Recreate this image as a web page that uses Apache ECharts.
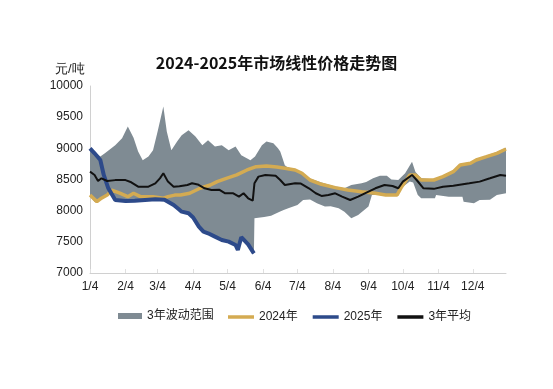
<!DOCTYPE html>
<html><head><meta charset="utf-8">
<script src="https://cdn.jsdelivr.net/npm/echarts@6/dist/echarts.min.js"></script>
<style>html,body{margin:0;padding:0;background:#fff}#c{width:553px;height:389px}</style>
</head><body><div id="c"></div>
<script>
// x = days since Jan 4
var tickDays = [0,31,59,90,120,151,181,212,243,273,304,334];
var tickLabels = ['1/4','2/4','3/4','4/4','5/4','6/4','7/4','8/4','9/4','10/4','11/4','12/4'];
var yTicks = [7000,7500,8000,8500,9000,9500,10000];

var bandUpper = [[0,9000],[9,8870],[13,8920],[22,9050],[28,9160],[33,9350],[38,9170],[42,8950],[46,8810],[51,8870],[55,8970],[59,9270],[64,9670],[67,9270],[71,8970],[76,9110],[80,9210],[86,9290],[92,9190],[98,9050],[103,9130],[109,9030],[115,9050],[121,8970],[127,9030],[132,8890],[140,8810],[144,8870],[150,9050],[154,9110],[160,9080],[164,9000],[166,8950],[168,8840],[170,8730],[172,8700],[185,8620],[190,8530],[202,8450],[213,8390],[222,8360],[228,8410],[237,8440],[241,8460],[247,8520],[253,8560],[259,8560],[263,8500],[269,8490],[275,8600],[281,8786],[284,8620],[289,8519],[299,8505],[308,8565],[317,8645],[323,8750],[332,8780],[338,8830],[346,8885],[355,8940],[363,9010]];
var bandLower = [[0,8230],[4,8140],[10,8200],[15,8250],[18,8280],[22,8160],[31,8150],[48,8160],[57,8175],[65,8170],[73,8090],[80,7984],[86,7958],[90,7878],[95,7744],[99,7663],[103,7637],[109,7583],[115,7530],[121,7503],[127,7450],[129,7360],[132,7560],[138,7450],[143,7300],[143.5,7880],[152,7900],[158,7920],[165,7980],[169,8011],[173,8040],[181,8090],[186,8170],[192,8180],[198,8118],[205,8065],[210,8070],[217,8038],[222,7984],[228,7878],[234,7931],[243,8065],[246,8250],[255,8260],[268,8260],[273,8385],[279,8466],[282,8450],[286,8252],[289,8199],[301,8199],[302,8252],[313,8225],[325,8225],[326,8145],[335,8118],[340,8171],[349,8175],[355,8252],[363,8279]];
var y2024 = [[0,8250],[6,8145],[10,8200],[15,8250],[19,8330],[26,8280],[33,8225],[38,8280],[44,8225],[55,8225],[64,8200],[68,8225],[74,8250],[79,8252],[87,8280],[96,8359],[105,8412],[111,8466],[119,8519],[128,8573],[137,8653],[145,8706],[154,8717],[163,8700],[170,8680],[179,8653],[185,8600],[192,8492],[202,8423],[214,8370],[225,8332],[237,8305],[249,8279],[258,8252],[268,8252],[272,8385],[279,8573],[284,8573],[289,8492],[300,8492],[308,8546],[317,8626],[323,8733],[332,8760],[337,8813],[346,8866],[355,8920],[363,8990]];
var y2025 = [[0,9000],[4,8920],[9,8813],[12,8573],[16,8359],[22,8171],[31,8155],[39,8160],[48,8171],[57,8182],[65,8175],[73,8091],[77,8030],[80,7984],[86,7958],[90,7890],[95,7744],[99,7663],[103,7637],[109,7583],[115,7530],[121,7503],[127,7450],[129,7370],[132,7575],[138,7460],[143,7316]];
var avg3 = [[0,8626],[4,8573],[7,8476],[10,8519],[15,8476],[22,8490],[31,8490],[36,8455],[42,8385],[51,8385],[57,8439],[61,8519],[64,8600],[68,8466],[73,8385],[78,8390],[85,8412],[89,8439],[94,8420],[100,8359],[106,8332],[113,8335],[118,8279],[125,8279],[130,8225],[134,8279],[138,8199],[142,8160],[143.5,8440],[147,8546],[153,8573],[162,8560],[166,8492],[170,8412],[179,8439],[184,8435],[191,8359],[197,8279],[202,8236],[208,8250],[214,8279],[220,8225],[227,8171],[234,8225],[243,8305],[249,8359],[257,8412],[264,8396],[269,8359],[273,8466],[281,8573],[285,8492],[291,8359],[300,8350],[308,8385],[317,8400],[331,8439],[340,8466],[349,8519],[358,8573],[363,8560]];

var names = ['3年波动范围','2024年','2025年','3年平均'];
var FONT = 'Liberation Sans, "Noto Sans CJK SC", sans-serif';
var bandColor = '#7f8b93';
var c2024 = '#d4ab52', c2025 = '#2d4a8a', cAvg = '#111111';

var chart = echarts.init(document.getElementById('c'), null, {renderer:'canvas'});
chart.setOption({
  animation:false,
  backgroundColor:'#fff',
  title:{text:'2024-2025年市场线性价格走势图', left:'center', top:50,
    textStyle:{fontSize:16, fontWeight:'bold', color:'#111', fontFamily:'"Noto Sans CJK SC", sans-serif'}},
  graphic:[{type:'text', left:55, top:63, style:{text:'元/吨', fontSize:13, fill:'#222', font:'13px "Noto Sans CJK SC", sans-serif'}}],
  grid:{left:90, right:47, top:86, bottom:116},
  legend:[
    {left:113, top:305, itemWidth:24, itemHeight:6, itemGap:16,
      textStyle:{fontSize:12, color:'#222', fontFamily:FONT},
      data:[{name:names[0], icon:'rect'}]},
    {left:223, top:306, itemWidth:26, itemHeight:3.5, itemGap:15,
      textStyle:{fontSize:12, color:'#222', fontFamily:FONT},
      data:[{name:names[1], icon:'rect'},{name:names[2], icon:'rect'},{name:names[3], icon:'rect'}]}
  ],
  xAxis:{type:'value', min:0, max:363,
    axisLine:{lineStyle:{color:'#d0d0d0'}},
    axisTick:{show:true, inside:true, length:4, lineStyle:{color:'#e0e0e0'}, customValues:tickDays},
    splitLine:{show:false},
    axisLabel:{customValues:tickDays, margin:8, fontSize:12, color:'#222', fontFamily:FONT,
      formatter:function(v){var i=tickDays.indexOf(v);return i>=0?tickLabels[i]:'';}}},
  yAxis:{type:'value', min:yTicks[0], max:yTicks[yTicks.length-1], interval:500,
    axisLine:{show:true, lineStyle:{color:'#d0d0d0'}},
    axisTick:{show:false},
    splitLine:{show:false},
    axisLabel:{fontSize:12, color:'#222', margin:7, fontFamily:FONT,
      formatter:function(v){return String(v);}}},
  series:[
    {name:names[0], type:'custom', data:[[0,8000]], itemStyle:{color:bandColor}, z:1,
      renderItem:function(params, api){
        var pts = bandUpper.map(function(p){return api.coord(p);});
        var low = bandLower.slice().reverse().map(function(p){return api.coord(p);});
        return {type:'polygon', shape:{points:pts.concat(low)}, style:{fill:bandColor}};
      }},
    {name:names[1], type:'line', data:y2024, showSymbol:false, symbol:'none', z:3,
      lineStyle:{color:c2024, width:3.5}, itemStyle:{color:c2024}},
    {name:names[2], type:'line', data:y2025, showSymbol:false, symbol:'none', z:4,
      lineStyle:{color:c2025, width:4}, itemStyle:{color:c2025}},
    {name:names[3], type:'line', data:avg3, showSymbol:false, symbol:'none', z:5,
      lineStyle:{color:cAvg, width:2}, itemStyle:{color:cAvg}}
  ]
});
</script></body></html>
